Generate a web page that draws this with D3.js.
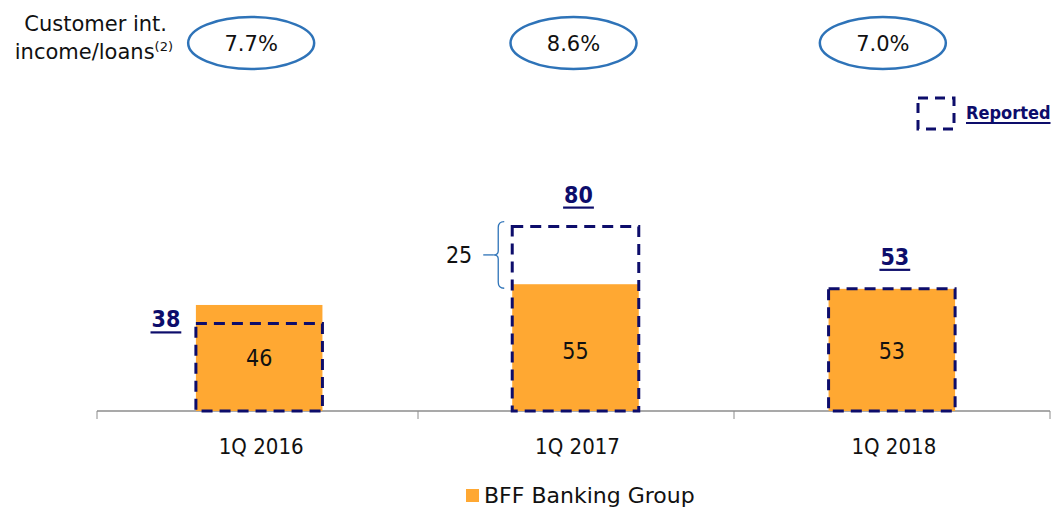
<!DOCTYPE html>
<html>
<head>
<meta charset="utf-8">
<script src="https://cdn.jsdelivr.net/npm/d3@7"></script>
<style>
  body { margin: 0; background: #fff; }
  text { font-family: "DejaVu Sans Condensed", "DejaVu Sans", sans-serif; }
  .wide { font-family: "DejaVu Sans", sans-serif; }
</style>
</head>
<body>
<div id="viz"></div>
<script>
const width = 1054;
const height = 507;

const categories = ["1Q 2016", "1Q 2017", "1Q 2018"];
const underlying = [46, 55, 53];
const reported = [38, 80, 53];
const ratios = ["7.7%", "8.6%", "7.0%"];

const orange = "#FFA832";
const navy = "#0D0D6B";
const ellipseBlue = "#2E73B8";

const svg = d3.select("#viz")
  .append("svg")
    .attr("width", width)
    .attr("height", height);

const x = d3.scaleBand()
  .domain(categories)
  .range([101, 1050]);

const y = d3.scaleLinear()
  .domain([0, 100])
  .range([411, 180.5]);

const barW = x.bandwidth() * 0.4;
const cx = d => x(d) + x.bandwidth() / 2;

// axis line + ticks
svg.append("line")
  .attr("x1", 97).attr("x2", 1050)
  .attr("y1", 411).attr("y2", 411)
  .attr("stroke", "#8c8c8c").attr("stroke-width", 1.5);

const tickXs = [97, 418, 734, 1050];
svg.selectAll(".tick")
  .data(tickXs)
  .enter().append("line")
    .attr("x1", d => d).attr("x2", d => d)
    .attr("y1", 411).attr("y2", 419)
    .attr("stroke", "#8c8c8c").attr("stroke-width", 1);

svg.selectAll(".xlabel")
  .data(categories)
  .enter().append("text")
    .attr("x", d => cx(d) + 2)
    .attr("y", 454)
    .attr("text-anchor", "middle")
    .attr("font-size", 22)
    .attr("fill", "#111")
    .text(d => d);

// orange bars
svg.selectAll(".bar")
  .data(categories)
  .enter().append("rect")
    .attr("x", d => cx(d) - barW / 2)
    .attr("y", (d, i) => y(underlying[i]))
    .attr("width", barW)
    .attr("height", (d, i) => y(0) - y(underlying[i]))
    .attr("fill", orange);

// dashed reported outlines
svg.selectAll(".rep")
  .data(categories)
  .enter().append("rect")
    .attr("x", d => cx(d) - barW / 2)
    .attr("y", (d, i) => y(reported[i]))
    .attr("width", barW)
    .attr("height", (d, i) => y(0) - y(reported[i]))
    .attr("fill", "none")
    .attr("stroke", navy)
    .attr("stroke-width", 3)
    .attr("stroke-dasharray", "11,7");

// values inside bars
svg.selectAll(".val")
  .data(categories)
  .enter().append("text")
    .attr("x", d => cx(d))
    .attr("y", (d, i) => i === 0 ? 366 : 359)
    .attr("text-anchor", "middle")
    .attr("font-size", 23)
    .attr("fill", "#111")
    .text((d, i) => underlying[i]);

// reported labels (bold underlined navy)
const repLabelPos = (d, i) => {
  if (reported[i] < underlying[i]) return { x: cx(d) - barW / 2 - 30, y: y(reported[i]) + 4 };
  return { x: cx(d) + 3, y: y(reported[i]) - 24 };
};
categories.forEach((d, i) => {
  const p = repLabelPos(d, i);
  const t = svg.append("text")
    .attr("x", p.x).attr("y", p.y)
    .attr("text-anchor", "middle")
    .attr("font-size", 23)
    .attr("font-weight", "bold")
    .attr("fill", navy)
    .text(reported[i]);
  const bb = t.node().getBBox();
  svg.append("line")
    .attr("x1", bb.x - 1).attr("x2", bb.x + bb.width + 1)
    .attr("y1", p.y + 5).attr("y2", p.y + 5)
    .attr("stroke", navy).attr("stroke-width", 2.2);
});

// bracket for difference on 1Q 2017
const bi = 1;
const bx = cx(categories[bi]) - barW / 2 - 14;
const yTop = y(reported[bi]) - 5;
const yBot = y(underlying[bi]) + 4;
const yMid = (yTop + yBot) / 2;
svg.append("path")
  .attr("d", `M${bx + 6},${yTop} Q${bx},${yTop} ${bx},${yTop + 6} L${bx},${yMid - 4} Q${bx},${yMid} ${bx - 5},${yMid} Q${bx},${yMid} ${bx},${yMid + 4} L${bx},${yBot - 6} Q${bx},${yBot} ${bx + 6},${yBot}`)
  .attr("fill", "none").attr("stroke", ellipseBlue).attr("stroke-width", 1.3);
svg.append("line")
  .attr("x1", bx - 15).attr("x2", bx - 5)
  .attr("y1", yMid).attr("y2", yMid)
  .attr("stroke", ellipseBlue).attr("stroke-width", 1.3);
svg.append("text")
  .attr("x", bx - 26).attr("y", yMid + 8)
  .attr("text-anchor", "end")
  .attr("font-size", 23)
  .attr("fill", "#111")
  .text(reported[bi] - underlying[bi]);

// top ratios in ellipses
const ellOffset = [-8, -2, -9];
svg.selectAll(".ell")
  .data(categories)
  .enter().append("ellipse")
    .attr("cx", (d, i) => cx(d) + ellOffset[i])
    .attr("cy", 43)
    .attr("rx", 63)
    .attr("ry", 26)
    .attr("fill", "none")
    .attr("stroke", ellipseBlue)
    .attr("stroke-width", 2.5);

svg.selectAll(".ratio")
  .data(categories)
  .enter().append("text")
    .attr("class", "wide")
    .attr("x", (d, i) => cx(d) + ellOffset[i])
    .attr("y", 51)
    .attr("text-anchor", "middle")
    .attr("font-size", 21)
    .attr("fill", "#111")
    .text((d, i) => ratios[i]);

svg.append("text")
  .attr("class", "wide")
  .attr("x", 167).attr("y", 31)
  .attr("text-anchor", "end")
  .attr("font-size", 21)
  .attr("fill", "#111")
  .text("Customer int.");
const t2 = svg.append("text")
  .attr("class", "wide")
  .attr("x", 173).attr("y", 59)
  .attr("text-anchor", "end")
  .attr("font-size", 21)
  .attr("fill", "#111");
t2.append("tspan").text("income/loans");
t2.append("tspan").attr("font-size", 13).attr("dy", -8).text("(2)");

// reported legend
svg.append("rect")
  .attr("x", 918).attr("y", 98)
  .attr("width", 36).attr("height", 31)
  .attr("fill", "none")
  .attr("stroke", navy).attr("stroke-width", 3)
  .attr("stroke-dasharray", "10,7");
const rl = svg.append("text")
  .attr("x", 966).attr("y", 119)
  .attr("font-size", 18)
  .attr("font-weight", "bold")
  .attr("fill", navy)
  .text("Reported");
const rbb = rl.node().getBBox();
svg.append("line")
  .attr("x1", rbb.x).attr("x2", rbb.x + rbb.width)
  .attr("y1", 123).attr("y2", 123)
  .attr("stroke", navy).attr("stroke-width", 1.8);

// bottom legend
svg.append("rect")
  .attr("x", 466).attr("y", 489)
  .attr("width", 13).attr("height", 13)
  .attr("fill", orange);
svg.append("text")
  .attr("class", "wide")
  .attr("x", 484).attr("y", 503)
  .attr("font-size", 22)
  .attr("fill", "#111")
  .text("BFF Banking Group");
</script>
</body>
</html>
